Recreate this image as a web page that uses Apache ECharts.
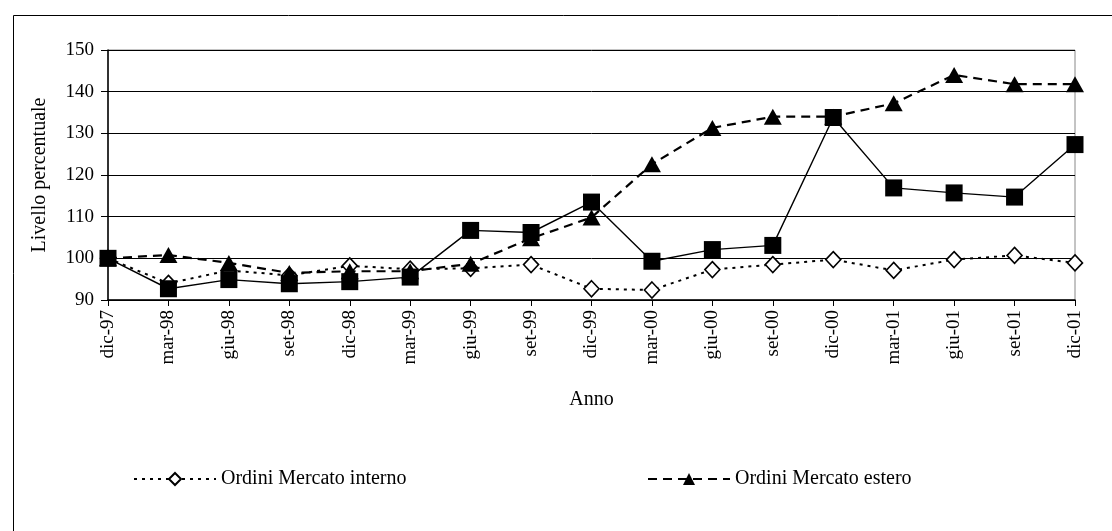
<!DOCTYPE html>
<html>
<head>
<meta charset="utf-8">
<script src="https://cdn.jsdelivr.net/npm/echarts@6/dist/echarts.min.js"></script>
<style>
  html, body { margin: 0; padding: 0; background: #fff; }
  #chart { width: 1112px; height: 531px; }
</style>
</head>
<body>
<div id="chart"></div>
<script>
// Quarterly categories, Dec 1997 – Dec 2001
const categories = ['dic-97','mar-98','giu-98','set-98','dic-98','mar-99','giu-99','set-99','dic-99',
                    'mar-00','giu-00','set-00','dic-00','mar-01','giu-01','set-01','dic-01'];

// Domestic market orders (index, dic-97 = 100)
const ordiniInterno = [100, 94.0, 97.1, 95.9, 98.2, 97.4, 97.6, 98.5, 92.7,
                       92.4, 97.3, 98.5, 99.7, 97.1, 99.7, 100.7, 98.9];

// Foreign market orders
const ordiniEstero = [100, 100.8, 98.9, 96.5, 96.9, 96.9, 98.7, 104.8, 109.8,
                      122.6, 131.3, 134.0, 134.0, 137.2, 144.0, 141.8, 141.8];

// Total orders
const ordiniTotali = [100, 92.7, 94.9, 93.9, 94.4, 95.5, 106.7, 106.2, 113.5,
                      99.3, 102.1, 103.1, 133.8, 116.9, 115.7, 114.7, 127.3];

const yTicks = { min: 90, max: 150, interval: 10 };

const FONT = '"Liberation Serif", "DejaVu Serif", serif';

const chart = echarts.init(document.getElementById('chart'), null, { renderer: 'canvas' });

chart.setOption({
  animation: false,
  backgroundColor: '#ffffff',
  textStyle: { fontFamily: FONT, color: '#000' },
  graphic: [{
    type: 'rect',
    left: 11, top: 13,
    shape: { width: 1200, height: 600 },
    style: { fill: 'none', stroke: '#000', lineWidth: 1 },
    silent: true,
    z: -10
  }],
  grid: {
    left: 108, right: 37, top: 50, bottom: 231,
    show: true, borderColor: '#888', borderWidth: 1, backgroundColor: 'transparent'
  },
  legend: [
    {
      data: ['Ordini Mercato interno'],
      left: 133, top: 469, padding: 0,
      itemWidth: 82, itemHeight: 15, itemGap: 0,
      textStyle: { fontFamily: FONT, fontSize: 20, color: '#000' }
    },
    {
      data: ['Ordini Mercato estero'],
      left: 647, top: 469, padding: 0,
      itemWidth: 82, itemHeight: 15, itemGap: 0,
      textStyle: { fontFamily: FONT, fontSize: 20, color: '#000' }
    }
  ],
  xAxis: {
    type: 'category',
    data: categories,
    boundaryGap: false,
    name: 'Anno',
    nameLocation: 'middle',
    nameGap: 90,
    nameTextStyle: { fontFamily: FONT, fontSize: 20, color: '#000' },
    axisLine: { lineStyle: { color: '#000', width: 1.5 } },
    axisTick: { show: true, length: 6, lineStyle: { color: '#000' } },
    axisLabel: { rotate: 90, fontFamily: FONT, fontSize: 19, color: '#000', margin: 10, interval: 0 },
    splitLine: { show: false }
  },
  yAxis: {
    type: 'value',
    min: yTicks.min, max: yTicks.max, interval: yTicks.interval,
    name: 'Livello percentuale',
    nameLocation: 'middle',
    nameGap: 58,
    nameTextStyle: { fontFamily: FONT, fontSize: 20, color: '#000' },
    axisLine: { show: true, lineStyle: { color: '#000', width: 1.5 } },
    axisTick: { show: true, length: 7, lineStyle: { color: '#000' } },
    axisLabel: { fontFamily: FONT, fontSize: 19, color: '#000', margin: 14 },
    splitLine: { show: true, lineStyle: { color: '#000', width: 1 } }
  },
  series: [
    {
      name: 'Ordini Mercato interno',
      type: 'line',
      data: ordiniInterno,
      symbol: 'diamond',
      symbolSize: [15, 16],
      showAllSymbol: true,
      lineStyle: { color: '#000', width: 2, type: [3, 5] },
      itemStyle: { color: '#fff', borderColor: '#000', borderWidth: 1.6 },
      z: 2
    },
    {
      name: 'Ordini Mercato estero',
      type: 'line',
      data: ordiniEstero,
      symbol: 'triangle',
      symbolSize: [18, 16],
      showAllSymbol: true,
      lineStyle: { color: '#000', width: 2.2, type: [9, 6] },
      itemStyle: { color: '#000', borderColor: '#000', borderWidth: 0 },
      z: 3
    },
    {
      name: 'Ordini totali',
      type: 'line',
      data: ordiniTotali,
      symbol: 'rect',
      symbolSize: 17,
      showAllSymbol: true,
      lineStyle: { color: '#000', width: 1.4, type: 'solid' },
      itemStyle: { color: '#000', borderColor: '#000', borderWidth: 0 },
      z: 4
    }
  ]
});
</script>
</body>
</html>
